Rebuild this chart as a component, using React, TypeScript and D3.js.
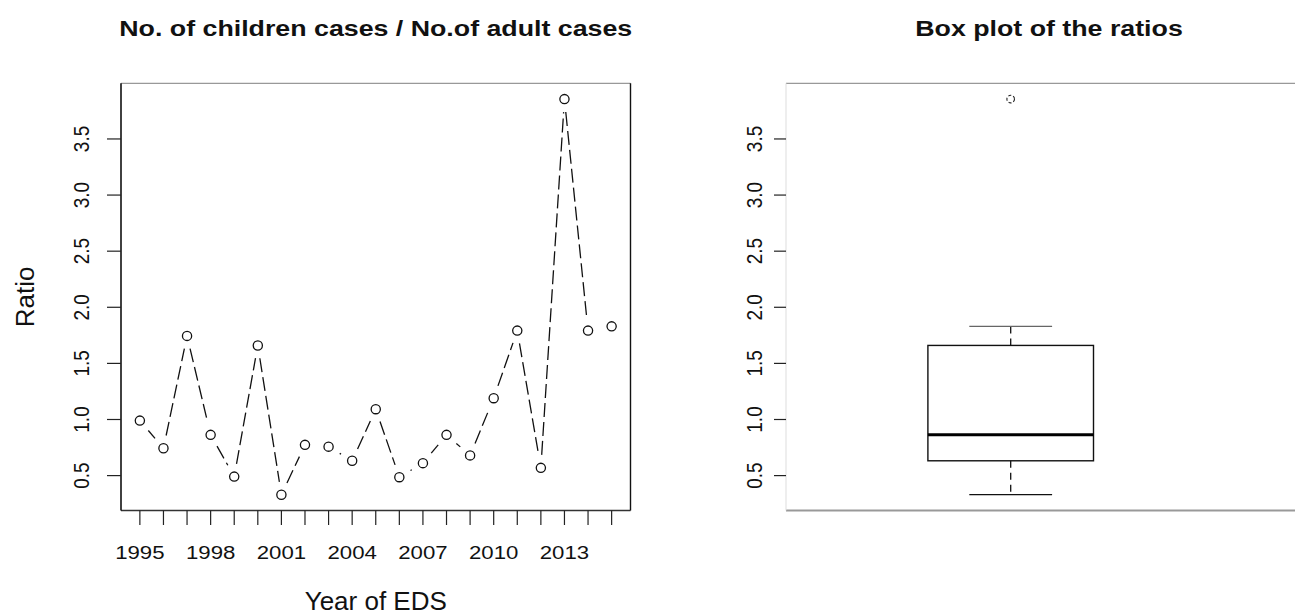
import React from 'react';
import * as d3 from 'd3';

// Ratio of children cases to adult cases per year of EDS
const years = [1995, 1996, 1997, 1998, 1999, 2000, 2001, 2002, 2003, 2004, 2005, 2006, 2007, 2008, 2009, 2010, 2011, 2012, 2013, 2014, 2015];
const ratios = [0.99, 0.744, 1.745, 0.863, 0.491, 1.66, 0.33, 0.774, 0.758, 0.632, 1.092, 0.486, 0.611, 0.863, 0.68, 1.19, 1.792, 0.569, 3.855, 1.792, 1.83];
const yearLabels = [1995, 1998, 2001, 2004, 2007, 2010, 2013];
const ratioTicks = [0.5, 1.0, 1.5, 2.0, 2.5, 3.0, 3.5];

const FONT = "'Liberation Sans', Arial, Helvetica, sans-serif";
const W = 1295;
const H = 616;

// panel regions
const L = { x0: 121, x1: 630.5, y0: 83.3, y1: 510.5 };
const R = { x0: 786, x1: 1312, y0: 83.3, y1: 510.5 };

const SX = 1.2; // horizontal widening of tick labels and titles
const GAP = 13; // gap left around points on the connecting lines
const TICK = 14;

// R-style axis range: data range padded by 4% each side
function padded(lo: number, hi: number): [number, number] {
  const d = (hi - lo) * 0.04;
  return [lo - d, hi + d];
}

// Tukey five-number summary plus whisker ends and outliers
function boxStats(values: number[]) {
  const s = values.slice().sort(d3.ascending);
  const n = s.length;
  const n4 = Math.floor((n + 3) / 2) / 2;
  const pos = [1, n4, (n + 1) / 2, n + 1 - n4, n];
  const f = pos.map((d) => 0.5 * (s[Math.floor(d) - 1] + s[Math.ceil(d) - 1]));
  const iqr = f[3] - f[1];
  const lo = f[1] - 1.5 * iqr;
  const hi = f[3] + 1.5 * iqr;
  const inside = s.filter((v) => v >= lo && v <= hi);
  return {
    q1: f[1],
    median: f[2],
    q3: f[3],
    wLo: d3.min(inside) as number,
    wHi: d3.max(inside) as number,
    outliers: s.filter((v) => v < lo || v > hi),
  };
}

function SText(props: {
  x: number;
  y: number;
  size: number;
  sx?: number;
  rotate?: number;
  anchor?: string;
  weight?: string | number;
  children: React.ReactNode;
}) {
  const { x, y, size, sx = 1, rotate, anchor = 'middle', weight = 'normal', children } = props;
  const t = `translate(${x},${y}) scale(${sx},1)` + (rotate ? ` rotate(${rotate})` : '');
  return (
    <text transform={t} fontSize={size} textAnchor={anchor} fontWeight={weight} fontFamily={FONT} fill="#111">
      {children}
    </text>
  );
}

export default function App() {
  const [yLo, yHi] = padded(d3.min(ratios) as number, d3.max(ratios) as number);
  const [xLo, xHi] = padded(years[0], years[years.length - 1]);

  const x = d3.scaleLinear().domain([xLo, xHi]).range([L.x0, L.x1]);
  const y = d3.scaleLinear().domain([yLo, yHi]).range([L.y1, L.y0]);
  // box plot horizontal position: box centred on 1, half-width 0.4
  const xb = d3.scaleLinear().domain([0.5, 1.5]).range([907.2, 1114.2]);

  const pts: [number, number][] = years.map((yr, i) => [x(yr), y(ratios[i])]);
  const segs = d3
    .pairs(pts)
    .map(([a, b]) => {
      const dx = b[0] - a[0];
      const dy = b[1] - a[1];
      const len = Math.hypot(dx, dy);
      if (len <= 2 * GAP) return null;
      const ux = dx / len;
      const uy = dy / len;
      return d3.line()([
        [a[0] + ux * GAP, a[1] + uy * GAP],
        [b[0] - ux * GAP, b[1] - uy * GAP],
      ]);
    })
    .filter((d) => d);

  const st = boxStats(ratios);

  return (
    <svg width={W} height={H} style={{ position: 'absolute', left: 0, top: 0, background: '#fff' }}>
      <rect width={W} height={H} fill="#fff" />

      {/* ---------- line chart ---------- */}
      <SText x={(L.x0 + L.x1) / 2} y={36} size={22.3} sx={SX} weight="bold">
        No. of children cases / No.of adult cases
      </SText>

      {/* frame */}
      <line x1={L.x0} x2={L.x1} y1={L.y0} y2={L.y0} stroke="#999" strokeWidth={1.2} />
      <line x1={L.x0} x2={L.x1} y1={L.y1} y2={L.y1} stroke="#333" strokeWidth={1.4} />
      <line x1={L.x0} x2={L.x0} y1={L.y0} y2={L.y1} stroke="#111" strokeWidth={1.6} />
      <line x1={L.x1} x2={L.x1} y1={L.y0} y2={L.y1} stroke="#111" strokeWidth={1.4} />

      {/* y axis */}
      {ratioTicks.map((t) => (
        <g key={'ly' + t}>
          <line x1={L.x0 - TICK} x2={L.x0} y1={y(t)} y2={y(t)} stroke="#222" strokeWidth={1.2} />
          <SText x={88.5} y={y(t)} size={19} sx={SX} rotate={-90}>
            {t.toFixed(1)}
          </SText>
        </g>
      ))}

      {/* x axis */}
      {years.map((yr) => (
        <line key={'lx' + yr} x1={x(yr)} x2={x(yr)} y1={L.y1} y2={L.y1 + TICK + 0.5} stroke="#222" strokeWidth={1.2} />
      ))}
      {yearLabels.map((yr) => (
        <SText key={'xl' + yr} x={x(yr)} y={558.5} size={18.5} sx={SX}>
          {yr}
        </SText>
      ))}

      <SText x={(L.x0 + L.x1) / 2} y={610} size={26}>
        Year of EDS
      </SText>
      <SText x={33.5} y={(L.y0 + L.y1) / 2} size={26} rotate={-90}>
        Ratio
      </SText>

      {/* connecting lines */}
      {segs.map((d, i) => (
        <path key={'s' + i} d={d as string} fill="none" stroke="#111" strokeWidth={1.3} strokeDasharray="14,5" />
      ))}
      {/* points */}
      {pts.map((p, i) => (
        <circle key={'p' + i} cx={p[0]} cy={p[1]} r={4.6} fill="none" stroke="#111" strokeWidth={1.3} />
      ))}

      {/* ---------- box plot ---------- */}
      <SText x={(R.x0 + R.x1) / 2} y={36} size={22.3} sx={SX} weight="bold">
        Box plot of the ratios
      </SText>

      <line x1={R.x0} x2={R.x1} y1={R.y0} y2={R.y0} stroke="#999" strokeWidth={1.2} />
      <line x1={R.x0} x2={R.x1} y1={R.y1} y2={R.y1} stroke="#999" strokeWidth={1.8} />
      <line x1={R.x0} x2={R.x0} y1={R.y0} y2={R.y1} stroke="#ddd" strokeWidth={1} />

      {ratioTicks.map((t) => (
        <g key={'ry' + t}>
          <line x1={R.x0 - 12} x2={R.x0} y1={y(t)} y2={y(t)} stroke="#222" strokeWidth={1.2} />
          <SText x={761.5} y={y(t)} size={19} sx={SX} rotate={-90}>
            {t.toFixed(1)}
          </SText>
        </g>
      ))}

      {/* whiskers */}
      <line x1={xb(1)} x2={xb(1)} y1={y(st.q3)} y2={y(st.wHi)} stroke="#111" strokeWidth={1.3} strokeDasharray="7,5" />
      <line x1={xb(1)} x2={xb(1)} y1={y(st.q1)} y2={y(st.wLo)} stroke="#111" strokeWidth={1.3} strokeDasharray="7,5" />
      <line x1={xb(0.8)} x2={xb(1.2)} y1={y(st.wHi)} y2={y(st.wHi)} stroke="#666" strokeWidth={1.3} />
      <line x1={xb(0.8)} x2={xb(1.2)} y1={y(st.wLo)} y2={y(st.wLo)} stroke="#111" strokeWidth={1.3} />

      {/* box and median */}
      <rect
        x={xb(0.6)}
        y={y(st.q3)}
        width={xb(1.4) - xb(0.6)}
        height={y(st.q1) - y(st.q3)}
        fill="none"
        stroke="#111"
        strokeWidth={1.4}
      />
      <line x1={xb(0.6)} x2={xb(1.4)} y1={y(st.median)} y2={y(st.median)} stroke="#000" strokeWidth={3} />

      {/* outliers */}
      {st.outliers.map((v, i) => (
        <circle key={'o' + i} cx={xb(1)} cy={y(v)} r={3.8} fill="none" stroke="#222" strokeWidth={1.1} strokeDasharray="3,2" />
      ))}
    </svg>
  );
}
